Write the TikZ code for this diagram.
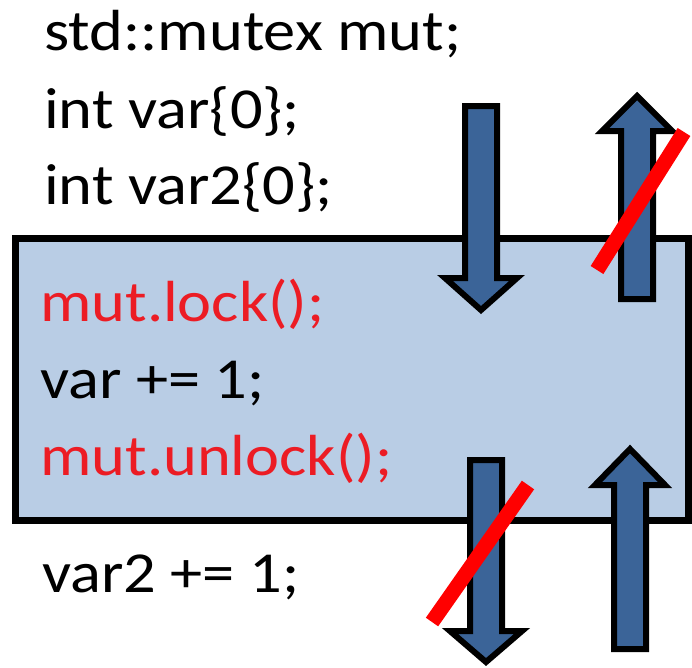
\documentclass[tikz,border=0pt]{standalone}
\usepackage{fontspec}
\setmainfont{Carlito}[FakeStretch=1.11]
\begin{document}
\begin{tikzpicture}[x=1pt,y=-1pt,
  code/.style={anchor=base west,inner sep=0pt,font=\fontsize{58}{70}\selectfont},
  hot/.style={code,text=lockred},
  region/.style={draw=black,line width=7pt,fill=regionblue},
  fence/.style={draw=black,line width=6pt,fill=fenceblue,line join=miter,miter limit=10},
  cross/.style={draw=barred,line width=15pt,line cap=butt}]
\definecolor{regionblue}{HTML}{B9CDE5}
\definecolor{fenceblue}{HTML}{3B6498}
\definecolor{lockred}{HTML}{EC1C24}
\definecolor{barred}{HTML}{FF0000}
\useasboundingbox (0,0) rectangle (692,667);
\fill[white] (0,0) rectangle (692,667);

% critical section
\draw[region] (15,238.5) rectangle (688,520);

% code lines
\node[code] (decl1) at (44,50) {std::mutex mut;};
\node[code] (decl2) at (44,128) {int var\{0\};};
\node[code] (decl3) at (44,204) {int var2\{0\};};
\node[hot]  (lock)  at (40,321) {mut.lock();};
\node[code] (inc1)  at (40,398) {var += 1;};
\node[hot]  (unlk)  at (40,475) {mut.unlock();};
\node[code] (inc2)  at (42,592) {var2 += 1;};

% down arrow into the section (allowed)
\draw[fence] (465,106) -- (497,106) -- (497,278) -- (517,278) -- (481,310)
  -- (445,278) -- (465,278) -- cycle;
% up arrow out of the section through the lock (barred)
\draw[fence] (621,299) -- (653,299) -- (653,131) -- (672,131) -- (637,96)
  -- (602,131) -- (621,131) -- cycle;
% down arrow out of the section through the unlock (barred)
\draw[fence] (470,460) -- (502,460) -- (502,631) -- (522,631) -- (486,662)
  -- (450,631) -- (470,631) -- cycle;
% up arrow into the section (allowed)
\draw[fence] (614,649) -- (646,649) -- (646,485) -- (665,485) -- (630,449)
  -- (595,485) -- (614,485) -- cycle;

% bars over the forbidden moves
\coordinate (b1s) at (597,270);
\coordinate (b1e) at (684,132);
\coordinate (b2s) at (432,622);
\coordinate (b2e) at (528,485);
\draw[cross] (b1s) -- (b1e);
\draw[cross] (b2s) -- (b2e);
\end{tikzpicture}
\end{document}
